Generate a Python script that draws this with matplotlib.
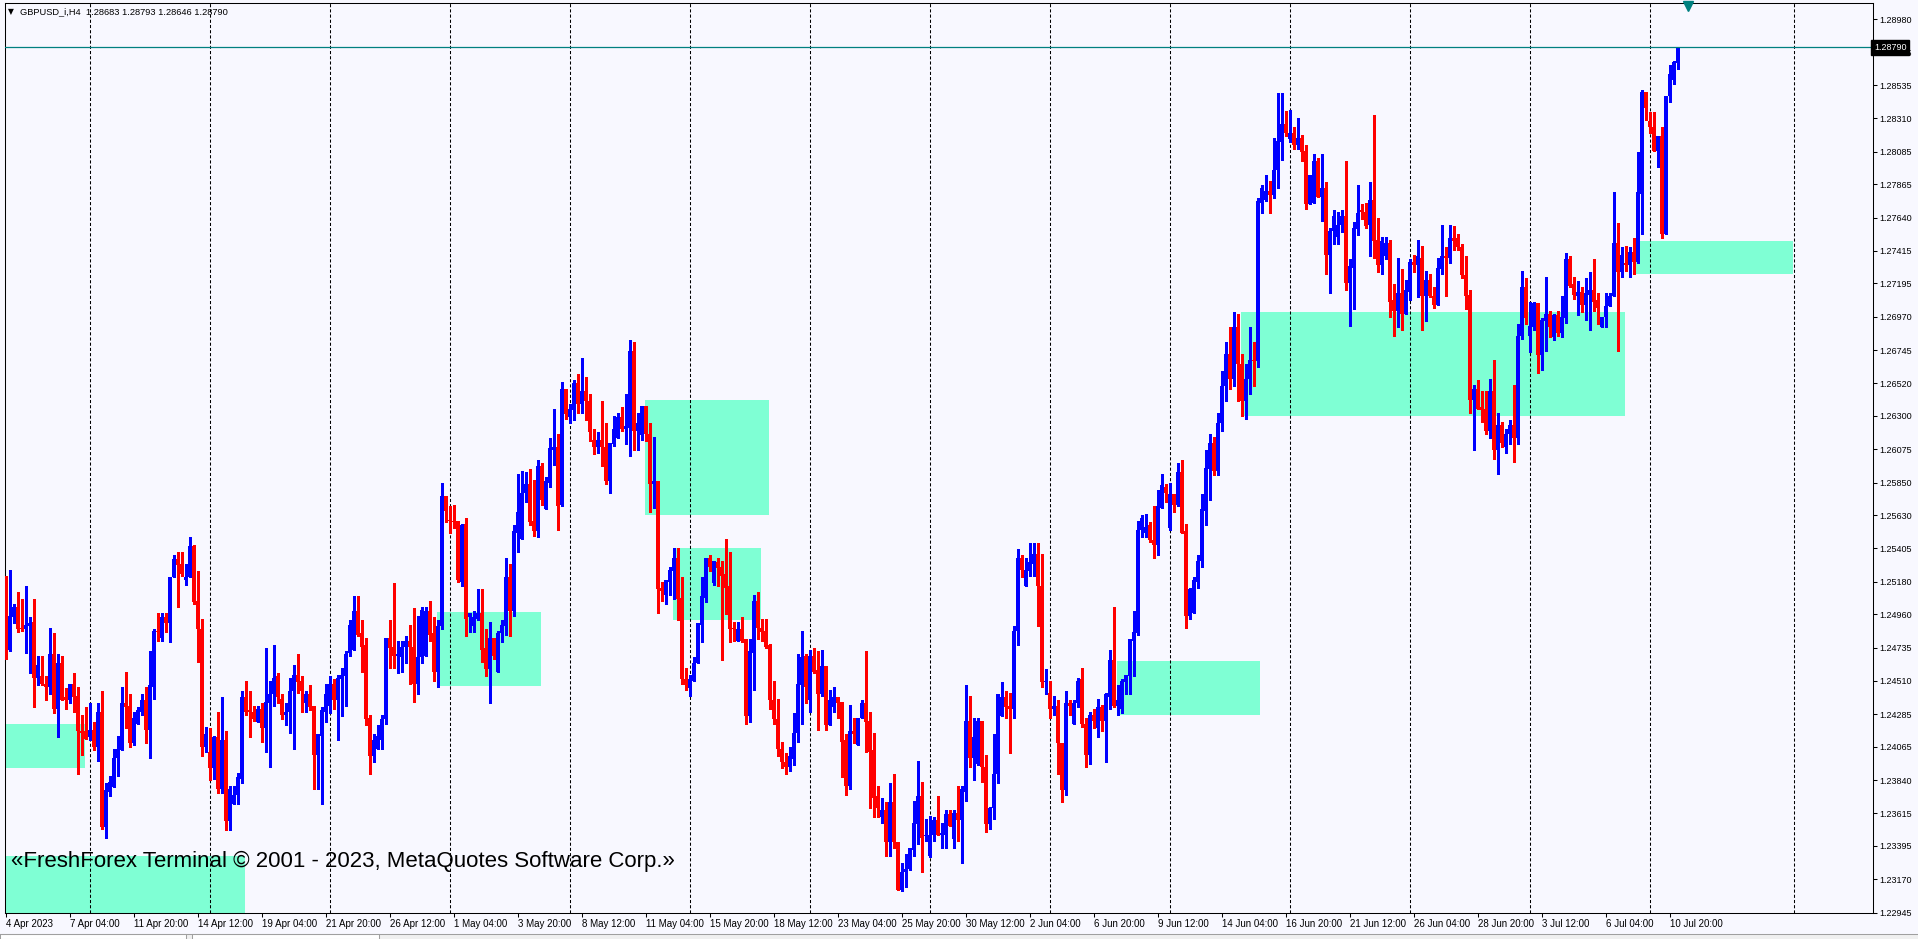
import numpy as np
import matplotlib.pyplot as plt
from matplotlib.patches import Rectangle
from matplotlib.transforms import ScaledTranslation, blended_transform_factory

# GBPUSD H4 candles (bar 0 = 4 Apr 2023)
opens = [
    1.2476, 1.2472, 1.2494, 1.2501, 1.2487, 1.2486, 1.2488, 1.2491, 1.2453, 1.2454,
    1.2449, 1.2447, 1.2469, 1.2432, 1.2463, 1.2440, 1.2438, 1.2449, 1.2441, 1.2417,
    1.2417, 1.2413, 1.2418, 1.2406, 1.2430, 1.2352, 1.2376, 1.2379, 1.2399, 1.2404,
    1.2436, 1.2434, 1.2409, 1.2422, 1.2430, 1.2438, 1.2418, 1.2447, 1.2485, 1.2480,
    1.2494, 1.2490, 1.2521, 1.2533, 1.2530, 1.2519, 1.2521, 1.2542, 1.2505, 1.2486,
    1.2406, 1.2403, 1.2392, 1.2413, 1.2378, 1.2411, 1.2356, 1.2368, 1.2374, 1.2385,
    1.2440, 1.2431, 1.2430, 1.2423, 1.2432, 1.2419, 1.2436, 1.2442, 1.2454, 1.2439,
    1.2428, 1.2430, 1.2444, 1.2455, 1.2451, 1.2436, 1.2442, 1.2434, 1.2401, 1.2414,
    1.2430, 1.2434, 1.2449, 1.2438, 1.2452, 1.2454, 1.2470, 1.2472, 1.2498, 1.2483,
    1.2475, 1.2426, 1.2400, 1.2405, 1.2411, 1.2425, 1.2480, 1.2474, 1.2468, 1.2467,
    1.2474, 1.2478, 1.2474, 1.2449, 1.2467, 1.2468, 1.2498, 1.2483, 1.2457, 1.2488,
    1.2576, 1.2560, 1.2559, 1.2559, 1.2518, 1.2557, 1.2494, 1.2488, 1.2493, 1.2497,
    1.2473, 1.2459, 1.2480, 1.2457, 1.2483, 1.2488, 1.2521, 1.2498, 1.2551, 1.2547,
    1.2578, 1.2584, 1.2559, 1.2552, 1.2596, 1.2567, 1.2585, 1.2607, 1.2609, 1.2570,
    1.2648, 1.2629, 1.2634, 1.2652, 1.2638, 1.2647, 1.2640, 1.2614, 1.2609, 1.2614,
    1.2609, 1.2586, 1.2611, 1.2615, 1.2629, 1.2621, 1.2622, 1.2674, 1.2620, 1.2617,
    1.2637, 1.2618, 1.2584, 1.2586, 1.2514, 1.2509, 1.2518, 1.2525, 1.2534, 1.2507,
    1.2452, 1.2446, 1.2451, 1.2463, 1.2489, 1.2507, 1.2534, 1.2517, 1.2531, 1.2528,
    1.2523, 1.2515, 1.2487, 1.2478, 1.2486, 1.2479, 1.2427, 1.2470, 1.2505, 1.2487,
    1.2485, 1.2475, 1.2438, 1.2425, 1.2405, 1.2396, 1.2393, 1.2398, 1.2416, 1.2448,
    1.2468, 1.2438, 1.2468, 1.2458, 1.2442, 1.2461, 1.2421, 1.2433, 1.2440, 1.2437,
    1.2411, 1.2380, 1.2417, 1.2408, 1.2426, 1.2436, 1.2424, 1.2404, 1.2373, 1.2359,
    1.2364, 1.2342, 1.2369, 1.2342, 1.2310, 1.2322, 1.2324, 1.2337, 1.2354, 1.2373,
    1.2346, 1.2333, 1.2347, 1.2357, 1.2347, 1.2347, 1.2361, 1.2344, 1.2362, 1.2357,
    1.2376, 1.2424, 1.2399, 1.2395, 1.2424, 1.2393, 1.2354, 1.2365, 1.2388, 1.2427,
    1.2440, 1.2434, 1.2432, 1.2485, 1.2534, 1.2515, 1.2525, 1.2530, 1.2537, 1.2515,
    1.2450, 1.2443, 1.2432, 1.2434, 1.2409, 1.2377, 1.2436, 1.2422, 1.2436, 1.2452,
    1.2422, 1.2401, 1.2428, 1.2419, 1.2433, 1.2424, 1.2440, 1.2465, 1.2434, 1.2432,
    1.2450, 1.2454, 1.2478, 1.2483, 1.2553, 1.2551, 1.2556, 1.2546, 1.2543, 1.2568,
    1.2582, 1.2554, 1.2577, 1.2570, 1.2592, 1.2552, 1.2495, 1.2497, 1.2518, 1.2532,
    1.2566, 1.2594, 1.2612, 1.2593, 1.2625, 1.2650, 1.2672, 1.2655, 1.2690, 1.2665,
    1.2640, 1.2655, 1.2668, 1.2667, 1.2774, 1.2776, 1.2782, 1.2779, 1.2796, 1.2815,
    1.2827, 1.2817, 1.2821, 1.2813, 1.2818, 1.2809, 1.2773, 1.2774, 1.2802, 1.2778,
    1.2784, 1.2739, 1.2755, 1.2751, 1.2759, 1.2765, 1.2720, 1.2730, 1.2756, 1.2769,
    1.2768, 1.2759, 1.2776, 1.2749, 1.2732, 1.2738, 1.2747, 1.2708, 1.2701, 1.2713,
    1.2699, 1.2714, 1.2734, 1.2732, 1.2737, 1.2711, 1.2722, 1.2711, 1.2705, 1.2729,
    1.2738, 1.2737, 1.2750, 1.2750, 1.2744, 1.2725, 1.2712, 1.2641, 1.2648, 1.2636,
    1.2635, 1.2620, 1.2647, 1.2607, 1.2624, 1.2609, 1.2618, 1.2624, 1.2615, 1.2684,
    1.2717, 1.2684, 1.2690, 1.2706, 1.2671, 1.2694, 1.2699, 1.2683, 1.2698, 1.2686,
    1.2696, 1.2736, 1.2719, 1.2711, 1.2714, 1.2705, 1.2712, 1.2715, 1.2708, 1.2690,
    1.2697, 1.2704, 1.2711, 1.2747, 1.2727, 1.2733, 1.2732, 1.2741, 1.2734, 1.2780,
    1.2849, 1.2829, 1.2825, 1.2809, 1.2819, 1.2753, 1.2846, 1.2857, 1.28683,
]
highs = [
    1.2522, 1.2526, 1.2503, 1.2511, 1.2506, 1.2515, 1.2494, 1.2506, 1.2468, 1.2468,
    1.2454, 1.2487, 1.2483, 1.2469, 1.2468, 1.2446, 1.2449, 1.2456, 1.2447, 1.2428,
    1.2433, 1.2436, 1.2423, 1.2436, 1.2444, 1.2382, 1.2387, 1.2405, 1.2414, 1.2447,
    1.2457, 1.2442, 1.2430, 1.2433, 1.2442, 1.2447, 1.2471, 1.2486, 1.2497, 1.2497,
    1.2497, 1.2521, 1.2536, 1.2538, 1.2538, 1.2530, 1.2548, 1.2543, 1.2525, 1.2493,
    1.2420, 1.2419, 1.2414, 1.2430, 1.2440, 1.2417, 1.2380, 1.2380, 1.2389, 1.2444,
    1.2451, 1.2444, 1.2434, 1.2434, 1.2436, 1.2473, 1.2451, 1.2475, 1.2456, 1.2442,
    1.2436, 1.2453, 1.2462, 1.2469, 1.2454, 1.2444, 1.2448, 1.2434, 1.2415, 1.2433,
    1.2449, 1.2454, 1.2452, 1.2455, 1.2460, 1.2471, 1.2492, 1.2508, 1.2508, 1.2492,
    1.2480, 1.2428, 1.2415, 1.2421, 1.2428, 1.2480, 1.2492, 1.2517, 1.2478, 1.2478,
    1.2481, 1.2489, 1.2500, 1.2495, 1.2501, 1.2501, 1.2505, 1.2494, 1.2492, 1.2585,
    1.2576, 1.2569, 1.2570, 1.2559, 1.2557, 1.2561, 1.2497, 1.2498, 1.2513, 1.2513,
    1.2486, 1.2491, 1.2480, 1.2485, 1.2492, 1.2534, 1.2530, 1.2556, 1.2591, 1.2593,
    1.2592, 1.2594, 1.2587, 1.2600, 1.2598, 1.2589, 1.2615, 1.2635, 1.2618, 1.2653,
    1.2648, 1.2638, 1.2654, 1.2658, 1.2669, 1.2656, 1.2645, 1.2621, 1.2619, 1.2640,
    1.2625, 1.2612, 1.2630, 1.2632, 1.2636, 1.2645, 1.2681, 1.2680, 1.2632, 1.2637,
    1.2637, 1.2625, 1.2616, 1.2586, 1.2518, 1.2519, 1.2528, 1.2541, 1.2541, 1.2521,
    1.2460, 1.2455, 1.2467, 1.2490, 1.2521, 1.2534, 1.2536, 1.2532, 1.2534, 1.2532,
    1.2547, 1.2538, 1.2491, 1.2491, 1.2494, 1.2479, 1.2479, 1.2509, 1.2511, 1.2493,
    1.2493, 1.2476, 1.2451, 1.2439, 1.2410, 1.2402, 1.2406, 1.2429, 1.2469, 1.2485,
    1.2469, 1.2472, 1.2473, 1.2471, 1.2472, 1.2461, 1.2445, 1.2447, 1.2440, 1.2437,
    1.2415, 1.2435, 1.2426, 1.2426, 1.2438, 1.2471, 1.2430, 1.2416, 1.2380, 1.2372,
    1.2369, 1.2382, 1.2388, 1.2342, 1.2328, 1.2334, 1.2338, 1.2370, 1.2397, 1.2383,
    1.2358, 1.2360, 1.2359, 1.2373, 1.2355, 1.2364, 1.2364, 1.2364, 1.2380, 1.2380,
    1.2448, 1.2441, 1.2426, 1.2426, 1.2424, 1.2401, 1.2366, 1.2415, 1.2442, 1.2450,
    1.2444, 1.2443, 1.2488, 1.2540, 1.2536, 1.2534, 1.2544, 1.2544, 1.2544, 1.2537,
    1.2459, 1.2451, 1.2441, 1.2438, 1.2409, 1.2444, 1.2438, 1.2438, 1.2453, 1.2460,
    1.2426, 1.2430, 1.2432, 1.2439, 1.2435, 1.2443, 1.2472, 1.2501, 1.2448, 1.2452,
    1.2455, 1.2479, 1.2498, 1.2559, 1.2563, 1.2564, 1.2558, 1.2569, 1.2580, 1.2591,
    1.2584, 1.2585, 1.2577, 1.2598, 1.2600, 1.2557, 1.2514, 1.2521, 1.2536, 1.2577,
    1.2607, 1.2618, 1.2616, 1.2632, 1.2660, 1.2680, 1.2690, 1.2700, 1.2699, 1.2672,
    1.2665, 1.2690, 1.2680, 1.2777, 1.2786, 1.2793, 1.2789, 1.2818, 1.2848, 1.2848,
    1.2836, 1.2837, 1.2825, 1.2831, 1.2820, 1.2813, 1.2793, 1.2807, 1.2804, 1.2807,
    1.2788, 1.2757, 1.2769, 1.2768, 1.2769, 1.2802, 1.2736, 1.2761, 1.2786, 1.2773,
    1.2774, 1.2788, 1.2833, 1.2764, 1.2751, 1.2751, 1.2749, 1.2719, 1.2737, 1.2729,
    1.2722, 1.2736, 1.2739, 1.2749, 1.2745, 1.2728, 1.2726, 1.2717, 1.2737, 1.2759,
    1.2744, 1.2759, 1.2758, 1.2753, 1.2746, 1.2738, 1.2715, 1.2651, 1.2654, 1.2647,
    1.2647, 1.2655, 1.2668, 1.2632, 1.2626, 1.2621, 1.2627, 1.2651, 1.2692, 1.2728,
    1.2723, 1.2707, 1.2707, 1.2706, 1.2696, 1.2724, 1.2701, 1.2699, 1.2701, 1.2711,
    1.2740, 1.2738, 1.2724, 1.2721, 1.2717, 1.2723, 1.2727, 1.2736, 1.2713, 1.2697,
    1.2713, 1.2713, 1.2781, 1.2760, 1.2744, 1.2745, 1.2744, 1.2750, 1.2808, 1.2850,
    1.2849, 1.2835, 1.2835, 1.2819, 1.2825, 1.2846, 1.2867, 1.2870, 1.28793,
]
lows = [
    1.2466, 1.2471, 1.2490, 1.2484, 1.2485, 1.2470, 1.2456, 1.2433, 1.2448, 1.2448,
    1.2438, 1.2442, 1.2429, 1.2413, 1.2438, 1.2432, 1.2436, 1.2430, 1.2388, 1.2401,
    1.2412, 1.2411, 1.2404, 1.2397, 1.2351, 1.2345, 1.2373, 1.2379, 1.2387, 1.2404,
    1.2419, 1.2406, 1.2408, 1.2422, 1.2428, 1.2409, 1.2399, 1.2439, 1.2478, 1.2478,
    1.2484, 1.2477, 1.2521, 1.2501, 1.2522, 1.2516, 1.2521, 1.2503, 1.2464, 1.2400,
    1.2403, 1.2384, 1.2385, 1.2375, 1.2375, 1.2350, 1.2350, 1.2368, 1.2368, 1.2382,
    1.2428, 1.2413, 1.2424, 1.2423, 1.2410, 1.2403, 1.2393, 1.2434, 1.2436, 1.2425,
    1.2421, 1.2416, 1.2405, 1.2443, 1.2430, 1.2430, 1.2431, 1.2378, 1.2378, 1.2368,
    1.2423, 1.2429, 1.2432, 1.2411, 1.2427, 1.2434, 1.2468, 1.2472, 1.2481, 1.2457,
    1.2421, 1.2388, 1.2396, 1.2405, 1.2405, 1.2422, 1.2460, 1.2460, 1.2456, 1.2457,
    1.2463, 1.2449, 1.2437, 1.2442, 1.2463, 1.2468, 1.2478, 1.2451, 1.2447, 1.2486,
    1.2558, 1.2551, 1.2554, 1.2518, 1.2515, 1.2481, 1.2484, 1.2484, 1.2492, 1.2464,
    1.2454, 1.2436, 1.2466, 1.2457, 1.2477, 1.2482, 1.2481, 1.2495, 1.2538, 1.2547,
    1.2572, 1.2556, 1.2549, 1.2548, 1.2570, 1.2567, 1.2582, 1.2597, 1.2553, 1.2569,
    1.2628, 1.2625, 1.2627, 1.2632, 1.2632, 1.2627, 1.2613, 1.2604, 1.2605, 1.2596,
    1.2584, 1.2578, 1.2610, 1.2615, 1.2620, 1.2611, 1.2603, 1.2607, 1.2607, 1.2614,
    1.2613, 1.2565, 1.2568, 1.2497, 1.2505, 1.2503, 1.2509, 1.2506, 1.2492, 1.2449,
    1.2445, 1.2441, 1.2451, 1.2463, 1.2477, 1.2504, 1.2525, 1.2516, 1.2515, 1.2465,
    1.2496, 1.2477, 1.2478, 1.2478, 1.2477, 1.2422, 1.2423, 1.2445, 1.2479, 1.2478,
    1.2473, 1.2432, 1.2422, 1.2400, 1.2392, 1.2388, 1.2390, 1.2394, 1.2410, 1.2422,
    1.2436, 1.2430, 1.2456, 1.2418, 1.2441, 1.2418, 1.2421, 1.2430, 1.2426, 1.2386,
    1.2374, 1.2378, 1.2409, 1.2408, 1.2426, 1.2403, 1.2365, 1.2359, 1.2359, 1.2355,
    1.2333, 1.2333, 1.2338, 1.2310, 1.2309, 1.2312, 1.2323, 1.2333, 1.2341, 1.2322,
    1.2343, 1.2332, 1.2343, 1.2347, 1.2338, 1.2338, 1.2353, 1.2338, 1.2343, 1.2328,
    1.2370, 1.2393, 1.2384, 1.2394, 1.2383, 1.2349, 1.2351, 1.2358, 1.2382, 1.2427,
    1.2426, 1.2402, 1.2426, 1.2475, 1.2521, 1.2515, 1.2522, 1.2522, 1.2488, 1.2447,
    1.2442, 1.2426, 1.2428, 1.2388, 1.2369, 1.2374, 1.2428, 1.2422, 1.2433, 1.2420,
    1.2393, 1.2395, 1.2419, 1.2413, 1.2417, 1.2396, 1.2432, 1.2433, 1.2428, 1.2429,
    1.2442, 1.2442, 1.2454, 1.2482, 1.2548, 1.2548, 1.2545, 1.2534, 1.2536, 1.2568,
    1.2572, 1.2553, 1.2565, 1.2569, 1.2551, 1.2487, 1.2493, 1.2497, 1.2514, 1.2528,
    1.2556, 1.2573, 1.2590, 1.2590, 1.2620, 1.2640, 1.2648, 1.2650, 1.2640, 1.2630,
    1.2628, 1.2645, 1.2650, 1.2663, 1.2767, 1.2775, 1.2767, 1.2777, 1.2784, 1.2803,
    1.2819, 1.2815, 1.2810, 1.2810, 1.2802, 1.2770, 1.2773, 1.2774, 1.2778, 1.2762,
    1.2726, 1.2713, 1.2746, 1.2746, 1.2754, 1.2715, 1.2691, 1.2702, 1.2752, 1.2763,
    1.2757, 1.2738, 1.2737, 1.2727, 1.2726, 1.2736, 1.2697, 1.2684, 1.2690, 1.2688,
    1.2699, 1.2708, 1.2727, 1.2710, 1.2688, 1.2694, 1.2710, 1.2703, 1.2705, 1.2726,
    1.2711, 1.2733, 1.2742, 1.2742, 1.2723, 1.2702, 1.2632, 1.2607, 1.2635, 1.2626,
    1.2618, 1.2615, 1.2601, 1.2591, 1.2609, 1.2605, 1.2611, 1.2599, 1.2611, 1.2682,
    1.2692, 1.2673, 1.2688, 1.2659, 1.2661, 1.2674, 1.2683, 1.2681, 1.2684, 1.2683,
    1.2693, 1.2717, 1.2709, 1.2698, 1.2700, 1.2695, 1.2688, 1.2701, 1.2692, 1.2690,
    1.2690, 1.2704, 1.2711, 1.2674, 1.2724, 1.2728, 1.2724, 1.2726, 1.2733, 1.2753,
    1.2830, 1.2821, 1.2809, 1.2798, 1.2750, 1.2753, 1.2842, 1.2854, 1.28646,
]
closes = [
    1.2472, 1.2495, 1.2501, 1.2486, 1.2486, 1.2489, 1.2490, 1.2453, 1.2462, 1.2449,
    1.2447, 1.2469, 1.2432, 1.2463, 1.2438, 1.2438, 1.2449, 1.2440, 1.2417, 1.2416,
    1.2412, 1.2418, 1.2406, 1.2430, 1.2352, 1.2377, 1.2383, 1.2399, 1.2405, 1.2436,
    1.2433, 1.2409, 1.2426, 1.2431, 1.2438, 1.2418, 1.2448, 1.2485, 1.2484, 1.2494,
    1.2490, 1.2521, 1.2533, 1.2529, 1.2523, 1.2521, 1.2542, 1.2504, 1.2486, 1.2406,
    1.2415, 1.2392, 1.2413, 1.2378, 1.2411, 1.2356, 1.2378, 1.2374, 1.2386, 1.2440,
    1.2430, 1.2430, 1.2425, 1.2432, 1.2419, 1.2437, 1.2442, 1.2453, 1.2440, 1.2428,
    1.2430, 1.2444, 1.2455, 1.2450, 1.2444, 1.2442, 1.2433, 1.2401, 1.2415, 1.2431,
    1.2442, 1.2449, 1.2438, 1.2453, 1.2455, 1.2469, 1.2489, 1.2498, 1.2482, 1.2474,
    1.2425, 1.2400, 1.2411, 1.2414, 1.2425, 1.2480, 1.2473, 1.2468, 1.2469, 1.2474,
    1.2478, 1.2474, 1.2449, 1.2467, 1.2499, 1.2498, 1.2482, 1.2457, 1.2488, 1.2576,
    1.2566, 1.2559, 1.2558, 1.2519, 1.2556, 1.2493, 1.2497, 1.2494, 1.2497, 1.2472,
    1.2459, 1.2480, 1.2468, 1.2483, 1.2489, 1.2521, 1.2498, 1.2552, 1.2565, 1.2578,
    1.2584, 1.2558, 1.2552, 1.2596, 1.2573, 1.2586, 1.2608, 1.2609, 1.2569, 1.2648,
    1.2631, 1.2635, 1.2652, 1.2638, 1.2647, 1.2640, 1.2619, 1.2609, 1.2614, 1.2609,
    1.2586, 1.2612, 1.2621, 1.2629, 1.2621, 1.2623, 1.2674, 1.2620, 1.2625, 1.2637,
    1.2618, 1.2584, 1.2586, 1.2513, 1.2512, 1.2519, 1.2526, 1.2534, 1.2506, 1.2452,
    1.2448, 1.2452, 1.2463, 1.2490, 1.2508, 1.2534, 1.2528, 1.2532, 1.2527, 1.2522,
    1.2514, 1.2486, 1.2486, 1.2486, 1.2478, 1.2427, 1.2471, 1.2505, 1.2487, 1.2484,
    1.2474, 1.2438, 1.2425, 1.2405, 1.2396, 1.2393, 1.2400, 1.2416, 1.2449, 1.2467,
    1.2447, 1.2468, 1.2457, 1.2442, 1.2461, 1.2421, 1.2438, 1.2440, 1.2436, 1.2410,
    1.2380, 1.2417, 1.2415, 1.2426, 1.2436, 1.2423, 1.2403, 1.2372, 1.2365, 1.2364,
    1.2342, 1.2369, 1.2342, 1.2310, 1.2322, 1.2324, 1.2338, 1.2355, 1.2373, 1.2345,
    1.2347, 1.2347, 1.2357, 1.2347, 1.2348, 1.2361, 1.2353, 1.2362, 1.2357, 1.2378,
    1.2424, 1.2399, 1.2413, 1.2424, 1.2393, 1.2354, 1.2365, 1.2388, 1.2442, 1.2440,
    1.2433, 1.2432, 1.2485, 1.2534, 1.2526, 1.2526, 1.2531, 1.2537, 1.2515, 1.2450,
    1.2451, 1.2432, 1.2434, 1.2409, 1.2377, 1.2436, 1.2434, 1.2436, 1.2451, 1.2422,
    1.2401, 1.2428, 1.2424, 1.2433, 1.2424, 1.2442, 1.2465, 1.2434, 1.2438, 1.2451,
    1.2455, 1.2479, 1.2484, 1.2553, 1.2561, 1.2555, 1.2546, 1.2543, 1.2569, 1.2583,
    1.2578, 1.2577, 1.2570, 1.2592, 1.2551, 1.2495, 1.2513, 1.2519, 1.2532, 1.2567,
    1.2595, 1.2612, 1.2593, 1.2625, 1.2650, 1.2672, 1.2655, 1.2690, 1.2665, 1.2640,
    1.2655, 1.2668, 1.2667, 1.2775, 1.2784, 1.2782, 1.2779, 1.2796, 1.2816, 1.2827,
    1.2821, 1.2821, 1.2813, 1.2818, 1.2808, 1.2773, 1.2793, 1.2802, 1.2778, 1.2784,
    1.2739, 1.2755, 1.2765, 1.2759, 1.2765, 1.2720, 1.2731, 1.2757, 1.2767, 1.2768,
    1.2758, 1.2776, 1.2748, 1.2732, 1.2748, 1.2747, 1.2707, 1.2701, 1.2713, 1.2699,
    1.2715, 1.2734, 1.2732, 1.2738, 1.2711, 1.2722, 1.2711, 1.2705, 1.2730, 1.2738,
    1.2737, 1.2750, 1.2748, 1.2744, 1.2725, 1.2711, 1.2641, 1.2648, 1.2635, 1.2634,
    1.2620, 1.2647, 1.2607, 1.2624, 1.2612, 1.2618, 1.2624, 1.2615, 1.2684, 1.2717,
    1.2696, 1.2691, 1.2706, 1.2671, 1.2695, 1.2699, 1.2690, 1.2698, 1.2686, 1.2697,
    1.2736, 1.2718, 1.2712, 1.2714, 1.2705, 1.2713, 1.2715, 1.2707, 1.2703, 1.2697,
    1.2704, 1.2711, 1.2747, 1.2727, 1.2739, 1.2732, 1.2741, 1.2734, 1.2781, 1.2849,
    1.2838, 1.2825, 1.2809, 1.2819, 1.2753, 1.2846, 1.2861, 1.2869, 1.28790,
]

# time axis labels, one every 16 bars
time_labels = [
    "4 Apr 2023", "7 Apr 04:00", "11 Apr 20:00", "14 Apr 12:00", "19 Apr 04:00",
    "21 Apr 20:00", "26 Apr 12:00", "1 May 04:00", "3 May 20:00", "8 May 12:00",
    "11 May 04:00", "15 May 20:00", "18 May 12:00", "23 May 04:00", "25 May 20:00",
    "30 May 12:00", "2 Jun 04:00", "6 Jun 20:00", "9 Jun 12:00", "14 Jun 04:00",
    "16 Jun 20:00", "21 Jun 12:00", "26 Jun 04:00", "28 Jun 20:00", "3 Jul 12:00",
    "6 Jul 04:00", "10 Jul 20:00",
]
price_ticks = [
    1.28980, 1.28755, 1.28535, 1.28310, 1.28085, 1.27865, 1.27640, 1.27415,
    1.27195, 1.26970, 1.26745, 1.26520, 1.26300, 1.26075, 1.25850, 1.25630,
    1.25405, 1.25180, 1.24960, 1.24735, 1.24510, 1.24285, 1.24065, 1.23840,
    1.23615, 1.23395, 1.23170, 1.22945,
]
# week separators (bar index of Monday 00:00)
week_starts = [21, 51, 81, 111, 141, 171, 201, 231, 261, 291, 321, 351, 381, 411, 447]

# supply / demand zones: bar from, bar to, top price, bottom price
zone_start = [-1.0, -1.0, 107.9, 159.9, 166.9, 277.9, 308.9, 407.1]
zone_end = [19.9, 59.9, 133.9, 190.9, 188.9, 313.6, 404.9, 446.9]
zone_top = [1.24218, 1.23327, 1.24975, 1.26407, 1.25407, 1.24644, 1.27002, 1.27482]
zone_bottom = [1.23922, 1.2280, 1.24477, 1.25631, 1.24923, 1.24279, 1.26299, 1.27261]

symbol = "GBPUSD_i,H4"
bid = 1.28790

BG = "#F8F8FF"
UP = "#0000FF"
DOWN = "#FF0000"
ZONE = "#7FFFD4"
TEAL = "#008080"

o = np.array(opens)
h = np.array(highs)
l = np.array(lows)
c = np.array(closes)
x = np.arange(len(c))

W, H = 1918, 939
fig = plt.figure(figsize=(W / 100, H / 100), dpi=100)
fig.patch.set_facecolor(BG)

# terminal tab strip along the bottom edge
fig.patches.append(Rectangle((0, 0), 1, 5 / H, transform=fig.transFigure,
                             facecolor="#F0F0F0", edgecolor="none", zorder=0))
fig.lines.append(plt.Line2D([0, 1], [5 / H, 5 / H], transform=fig.transFigure,
                            color="#A0A0A0", lw=0.75))
for tx0, tx1 in [(0, 186), (192, 379)]:
    fig.patches.append(Rectangle((tx0 / W, 0), (tx1 - tx0) / W, 5 / H,
                                 transform=fig.transFigure, facecolor="white",
                                 edgecolor="#A0A0A0", lw=0.75, zorder=1))

# plot area in pixels: x 4.5..1872.5, y 3..912.5
ax = fig.add_axes([4.5 / W, (H - 912.5) / H, 1868 / W, 909.5 / H])
ax.set_facecolor(BG)
ax.set_xlim(-0.25, 466.75)
ax.set_ylim(1.22945, 1.22945 + 909.5 * 0.00006756)

for s in ax.spines.values():
    s.set_linewidth(0.75)
    s.set_color("black")

# zones
for xs, xe, yt, yb in zip(zone_start, zone_end, zone_top, zone_bottom):
    ax.add_patch(Rectangle((xs, yb), xe - xs, yt - yb, facecolor=ZONE,
                           edgecolor="none", zorder=1))

# week separators
for ws in week_starts:
    ax.axvline(ws, color="black", lw=0.75, ls=(0, (3, 2)), zorder=2)

# candles
cols = np.where(c >= o, UP, DOWN)
ax.vlines(x, l, h, colors=cols, lw=0.75, zorder=3, antialiased=False)
body_low = np.minimum(o, c)
body_h = np.maximum(np.abs(c - o), 0.00007)
ax.bar(x, body_h, bottom=body_low, width=0.8, color=cols, linewidth=0,
       zorder=4, antialiased=False)

# bid line
ax.axhline(bid, color=TEAL, lw=0.9, zorder=5)

# chart shift marker
ax.plot([len(c) + 1.6], [ax.get_ylim()[1] - 0.00018], marker="v", ms=7,
        color=TEAL, mec=TEAL, zorder=6, clip_on=False)

# x axis
ax.set_xticks(np.arange(len(time_labels)) * 16)
ax.set_xticklabels(time_labels, ha="left", fontsize=7,
                   family=["Liberation Sans Narrow", "Liberation Sans"])
off = ScaledTranslation(2 / 100, 0, fig.dpi_scale_trans)
for lab in ax.get_xticklabels():
    lab.set_transform(lab.get_transform() + off)
ax.tick_params(axis="x", direction="out", length=3, width=0.75, pad=1.5,
               colors="black")

# y axis on the right
ax.yaxis.tick_right()
ax.set_yticks(price_ticks)
ax.set_yticklabels([f"{p:.5f}" for p in price_ticks], fontsize=6.5,
                   family=["Liberation Sans", "DejaVu Sans"])
ax.tick_params(axis="y", direction="out", length=3, width=0.75, pad=2,
               colors="black")

# bid label box on the price axis
tr = blended_transform_factory(ax.transAxes, ax.transData)
ax.text(1.0008, bid, f"{bid:.5f}", transform=tr, ha="left", va="center",
        fontsize=6.5, color="white", family=["Liberation Sans", "DejaVu Sans"],
        bbox=dict(boxstyle="square,pad=0.3", fc="black", ec="black"),
        zorder=10, clip_on=False)

# title in the corner
fig.text(8 / W, 1 - 12 / H, "\u25BC", fontsize=5.5, color="black",
         va="center", ha="left", family="DejaVu Sans")
fig.text(20 / W, 1 - 11.5 / H,
         f"{symbol}  {o[-1]:.5f} {h[-1]:.5f} {l[-1]:.5f} {c[-1]:.5f}",
         fontsize=6.7, color="black", va="center", ha="left",
         family=["Liberation Sans", "DejaVu Sans"])

# terminal watermark
fig.text(11 / W, 1 - 861 / H,
         "\u00ABFreshForex Terminal \u00A9 2001 - 2023, MetaQuotes Software Corp.\u00BB",
         fontsize=16, color="black", va="center", ha="left",
         family=["Liberation Sans", "DejaVu Sans"])

fig.savefig("out.png", dpi=100, facecolor=fig.get_facecolor())
